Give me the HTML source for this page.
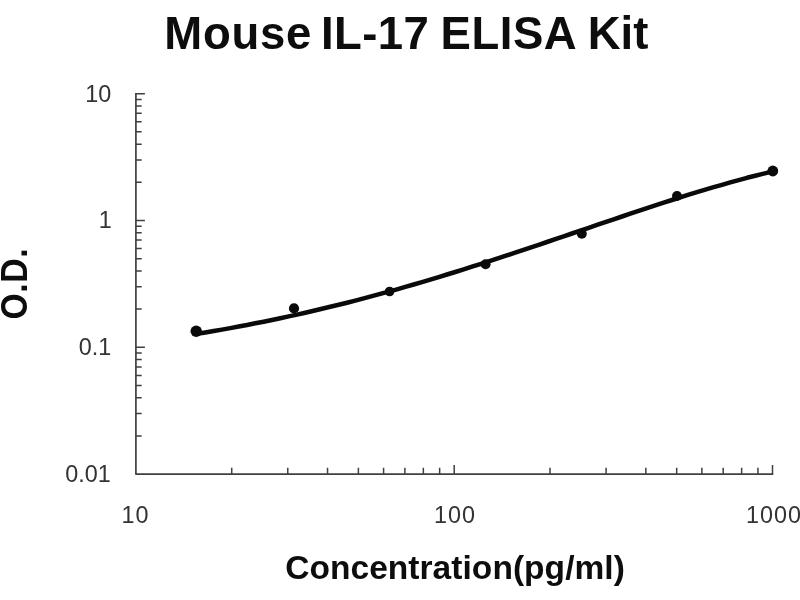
<!DOCTYPE html>
<html><head><meta charset="utf-8"><title>Mouse IL-17 ELISA Kit</title>
<style>html,body{margin:0;padding:0;background:#fff;overflow:hidden}svg{display:block}</style></head>
<body><svg width="800" height="600" viewBox="0 0 800 600">
<rect width="800" height="600" fill="#fff"/>
<path d="M135.9 92.95V474.05H773.25" fill="none" stroke="#404040" stroke-width="1.7" stroke-linejoin="round"/>
<path d="M135.9 435.88h5.8M135.9 413.56h5.8M135.9 397.72h5.8M135.9 385.43h5.8M135.9 375.39h5.8M135.9 366.91h5.8M135.9 359.55h5.8M135.9 353.07h5.8M135.9 347.27h9M135.9 309.10h5.8M135.9 286.78h5.8M135.9 270.94h5.8M135.9 258.65h5.8M135.9 248.61h5.8M135.9 240.12h5.8M135.9 232.77h5.8M135.9 226.28h5.8M135.9 220.48h9M135.9 182.32h5.8M135.9 159.99h5.8M135.9 144.15h5.8M135.9 131.87h5.8M135.9 121.83h5.8M135.9 113.34h5.8M135.9 105.99h5.8M135.9 99.50h5.8M135.9 93.70h9M231.72 474.05v-6.3M287.77 474.05v-6.3M327.54 474.05v-6.3M358.38 474.05v-6.3M383.59 474.05v-6.3M404.89 474.05v-6.3M423.35 474.05v-6.3M439.64 474.05v-6.3M454.20 474.05v-9M550.02 474.05v-6.3M606.07 474.05v-6.3M645.84 474.05v-6.3M676.68 474.05v-6.3M701.89 474.05v-6.3M723.19 474.05v-6.3M741.65 474.05v-6.3M757.94 474.05v-6.3M772.50 474.05v-9" fill="none" stroke="#404040" stroke-width="1.5"/>
<path d="M197.0 333.8 L205.3 332.5 L213.7 331.0 L222.0 329.6 L230.3 328.1 L238.7 326.5 L247.0 325.0 L255.3 323.3 L263.7 321.7 L272.0 320.0 L280.3 318.2 L288.7 316.4 L297.0 314.6 L305.3 312.7 L313.7 310.8 L322.0 308.8 L330.3 306.8 L338.7 304.8 L347.0 302.7 L355.3 300.6 L363.7 298.4 L372.0 296.2 L380.3 293.9 L388.7 291.6 L397.0 289.3 L405.3 286.9 L413.7 284.5 L422.0 282.1 L430.3 279.6 L438.7 277.1 L447.0 274.5 L455.3 272.0 L463.7 269.4 L472.0 266.7 L480.3 264.1 L488.7 261.4 L497.0 258.6 L505.3 255.9 L513.7 253.2 L522.0 250.4 L530.3 247.6 L538.7 244.8 L547.0 242.0 L555.3 239.1 L563.7 236.3 L572.0 233.5 L580.3 230.6 L588.7 227.8 L597.0 224.9 L605.3 222.1 L613.7 219.3 L622.0 216.5 L630.3 213.7 L638.7 210.9 L647.0 208.1 L655.3 205.4 L663.7 202.7 L672.0 200.0 L680.3 197.3 L688.7 194.7 L697.0 192.2 L705.3 189.6 L713.7 187.2 L722.0 184.8 L730.3 182.4 L738.7 180.1 L747.0 177.8 L755.3 175.7 L763.7 173.6 L772.0 171.6" fill="none" stroke="#0a0a0a" stroke-width="4.5" stroke-linecap="round" stroke-linejoin="round"/>
<circle cx="196.2" cy="331.3" r="5.7" fill="#0a0a0a"/>
<circle cx="294" cy="308.4" r="5.1" fill="#0a0a0a"/>
<circle cx="389.6" cy="291.5" r="4.8" fill="#0a0a0a"/>
<circle cx="485.6" cy="264.3" r="5" fill="#0a0a0a"/>
<circle cx="581.8" cy="233.7" r="5" fill="#0a0a0a"/>
<circle cx="677" cy="196" r="5" fill="#0a0a0a"/>
<circle cx="772.8" cy="171" r="5.4" fill="#0a0a0a"/>
<text x="111.3" y="102.2" text-anchor="end" font-family="Liberation Sans, Arial, sans-serif" font-size="23.4" fill="#333">10</text>
<text x="111.8" y="228.3" text-anchor="end" font-family="Liberation Sans, Arial, sans-serif" font-size="23.4" fill="#333">1</text>
<text x="111.3" y="355" text-anchor="end" font-family="Liberation Sans, Arial, sans-serif" font-size="23.4" fill="#333">0.1</text>
<text x="110.8" y="482" text-anchor="end" font-family="Liberation Sans, Arial, sans-serif" font-size="23.4" fill="#333">0.01</text>
<text x="121.5" y="523.3" letter-spacing="1" font-family="Liberation Sans, Arial, sans-serif" font-size="23.4" fill="#333">10</text>
<text x="434" y="523.3" letter-spacing="1" font-family="Liberation Sans, Arial, sans-serif" font-size="23.4" fill="#333">100</text>
<text x="746" y="523.3" letter-spacing="1" font-family="Liberation Sans, Arial, sans-serif" font-size="23.4" fill="#333">1000</text>
<text y="48.6" font-size="45.5" font-family="Liberation Sans, Arial, sans-serif" font-weight="bold" fill="#0d0d0d"><tspan x="164.3" letter-spacing="0.7">Mouse</tspan><tspan x="321" letter-spacing="0.4">IL-17</tspan><tspan x="440.6" letter-spacing="0.5">ELISA</tspan><tspan x="587.7">Kit</tspan></text>
<text x="285.2" y="578.8" letter-spacing="0.05" font-size="33.5" font-family="Liberation Sans, Arial, sans-serif" font-weight="bold" fill="#0d0d0d">Concentration(pg/ml)</text>
<text transform="translate(27 319.5) rotate(-90) scale(0.91 1)" letter-spacing="0.7" font-size="37" font-family="Liberation Sans, Arial, sans-serif" font-weight="bold" fill="#0d0d0d">O.D.</text>
</svg></body></html>
